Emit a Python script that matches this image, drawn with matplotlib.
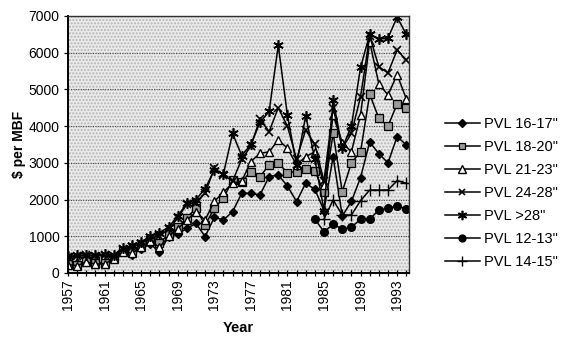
import numpy as np
import matplotlib
matplotlib.use("Agg")
import matplotlib.pyplot as plt

plt.rcParams['font.family'] = ['Liberation Sans', 'DejaVu Sans']

nan = np.nan
years = list(range(1957, 1995))

pvl_16_17 = [300, 270, 330, 280, 290, 420, 560, 500, 650, 800,
             560, 990, 1060, 1215, 1350, 990, 1515, 1445, 1670, 2170,
             2170, 2125, 2625, 2670, 2370, 1945, 2445, 2280, 1700, 3170,
             1550, 1950, 2600, 3570, 3250, 3000, 3715, 3490]
pvl_18_20 = [250, 230, 320, 260, 270, 400, 600, 560, 720, 900,
             820, 1050, 1250, 1500, 1765, 1300, 1765, 2035, 2535, 2490,
             2760, 2625, 2945, 2990, 2735, 2760, 2825, 2780, 2200, 3800,
             2215, 3000, 3300, 4870, 4215, 4000, 4605, 4500]
pvl_21_23 = [230, 200, 300, 240, 250, 380, 580, 540, 700, 870,
             700, 1000, 1200, 1450, 1650, 1445, 1950, 2200, 2445, 2500,
             3035, 3260, 3300, 3625, 3400, 2945, 3170, 3300, 2400, 4300,
             3550, 3300, 4300, 6300, 5150, 4850, 5400, 4750]
pvl_24_28 = [430, 450, 480, 450, 500, 470, 650, 720, 800, 950,
             1000, 1200, 1500, 1870, 1915, 2170, 2850, 2670, 2500, 3100,
             3450, 4200, 3850, 4500, 4000, 3100, 3900, 3500, 2500, 4500,
             3400, 3800, 4800, 6450, 5620, 5450, 6075, 5800]
pvl_over_28 = [450, 480, 500, 480, 520, 500, 680, 750, 850, 1000,
               1100, 1250, 1550, 1900, 2000, 2300, 2800, 2700, 3800, 3200,
               3500, 4100, 4400, 6200, 4300, 2950, 4280, 3100, 1700, 4700,
               3400, 4000, 5600, 6500, 6370, 6400, 6970, 6500]
pvl_12_13 = [nan] * 27 + [1465, 1125, 1325, 1200, 1245, 1465, 1465, 1715,
                          1760, 1825, 1745]
pvl_14_15 = [nan] * 28 + [1465, 1990, 1580, 1580, 1970, 2260, 2260, 2260,
                          2515, 2445]

series = [
    ('PVL 16-17"', pvl_16_17, dict(marker='D', ms=4.5, mfc='black', mec='black')),
    ('PVL 18-20"', pvl_18_20, dict(marker='s', ms=5.5, mfc='#9a9a9a', mec='black', mew=0.9)),
    ('PVL 21-23"', pvl_21_23, dict(marker='^', ms=6, mfc='white', mec='black', mew=1.0)),
    ('PVL 24-28"', pvl_24_28, dict(marker='x', ms=5.5, mec='black', mew=1.2)),
    ('PVL >28"', pvl_over_28, dict(marker=(6, 2, 0), ms=7.5, mec='black', mew=1.2)),
    ('PVL 12-13"', pvl_12_13, dict(marker='o', ms=5.5, mfc='black', mec='black')),
    ('PVL 14-15"', pvl_14_15, dict(marker='+', ms=8.5, mec='black', mew=1.0)),
]

fig = plt.figure(figsize=(5.69, 3.43), dpi=100)
ax = fig.add_axes([68 / 569, 1 - 273 / 343, (409 - 68) / 569, (273 - 16) / 343])

# stippled plot background
ax.set_facecolor('#ebebeb')
ax.patch.set_hatch('.....')
ax.patch.set_edgecolor('#b4b4b4')
ax.patch.set_linewidth(0)

handles = []
for label, vals, style in series:
    h, = ax.plot(years, vals, color='black', lw=1.1, label=label, **style)
    handles.append(h)

ax.set_xlim(1957, 1994.3)
ax.set_ylim(0, 7000)
ax.set_yticks(range(0, 7001, 1000))
ax.set_xticks(range(1957, 1995, 4))
ax.set_xticks(range(1957, 1995), minor=True)
ax.tick_params(axis='x', which='both', direction='inout', length=5, width=0.9,
               labelrotation=90, labelsize=10, pad=2)
ax.tick_params(axis='y', direction='out', length=3, width=0.9, labelsize=10, pad=3)

ax.yaxis.grid(True, color='#505050', linestyle=(0, (1, 1.2)), lw=0.8)
ax.set_axisbelow(True)

for side in ('left', 'bottom'):
    ax.spines[side].set_linewidth(1.4)
    ax.spines[side].set_color('black')
for side in ('top', 'right'):
    ax.spines[side].set_linewidth(1.0)
    ax.spines[side].set_color('#303030')

ax.set_xlabel('Year', fontsize=10.5, fontweight='bold', labelpad=8)
ax.set_ylabel('$ per MBF', fontsize=10, fontweight='bold', labelpad=2)

fig.legend(handles=handles, loc='upper left', bbox_to_anchor=(439 / 569, 1 - 111 / 343),
           frameon=False, fontsize=10.5, handlelength=2.4, handletextpad=0.3,
           labelspacing=0.62, borderaxespad=0, markerscale=0.9)

fig.savefig('out.png', dpi=100)
